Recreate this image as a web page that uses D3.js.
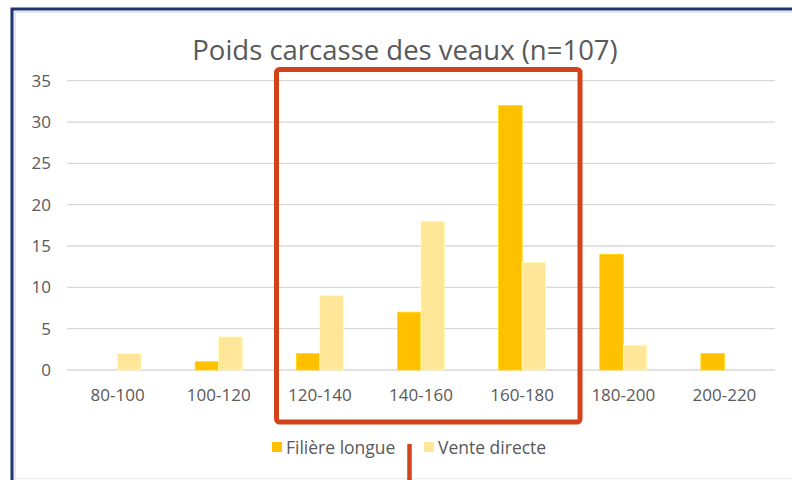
<!DOCTYPE html>
<html>
<head>
<meta charset="utf-8">
<script src="https://cdn.jsdelivr.net/npm/d3@7"></script>
<style>
  body { margin: 0; background: #fff; }
  text { font-family: "Open Sans", sans-serif; fill: #595959; }
</style>
</head>
<body>
<svg id="chart" width="792" height="480"></svg>
<script>
// Data
var categories = ["80-100", "100-120", "120-140", "140-160", "160-180", "180-200", "200-220"];
var filiereLongue = [0, 1, 2, 7, 32, 14, 2];
var venteDirecte = [2, 4, 9, 18, 13, 3, 0];
var seriesNames = ["Filière longue", "Vente directe"];
var yTicks = [0, 5, 10, 15, 20, 25, 30, 35];

var colors = ["#FFC000", "#FFE699"];

var svg = d3.select("#chart");

// Frame of the slide (navy border on top/left, light shadow inside)
svg.append("rect").attr("x", 12).attr("y", 9).attr("width", 800).attr("height", 480)
   .attr("fill", "none").attr("stroke", "#1F3372").attr("stroke-width", 3);
svg.append("path").attr("d", "M15,480 V12 H792")
   .attr("fill", "none").attr("stroke", "#dde0e8").attr("stroke-width", 1.5);
svg.append("line").attr("x1", 14).attr("x2", 792).attr("y1", 478.5).attr("y2", 478.5)
   .attr("stroke", "#ececec").attr("stroke-width", 1.5);

var x0 = d3.scaleBand().domain(categories).range([67, 775]).paddingInner(0.535).paddingOuter(0.2675);
var x1 = d3.scaleBand().domain([0, 1]).range([0, x0.bandwidth()]);
var y = d3.scaleLinear().domain([0, 35]).range([370, 80.7]);

// Gridlines
svg.append("g").selectAll("line").data(yTicks).join("line")
   .attr("x1", 67).attr("x2", 775)
   .attr("y1", function(d){ return y(d); }).attr("y2", function(d){ return y(d); })
   .attr("stroke", "#d9d9d9").attr("stroke-width", 1.3);

// Y axis labels
var yAxis = d3.axisLeft(y).tickValues(yTicks).tickSize(0).tickPadding(0);
var gy = svg.append("g").attr("transform", "translate(51,0)").call(yAxis);
gy.select(".domain").remove();
gy.selectAll("text").attr("font-size", 17).style("font-family", "Open Sans").attr("fill", "#595959");

// X axis labels
var xAxis = d3.axisBottom(x0).tickSize(0).tickPadding(0);
var gx = svg.append("g").attr("transform", "translate(0,389)").call(xAxis);
gx.select(".domain").remove();
gx.selectAll("text").attr("font-size", 17).style("font-family", "Open Sans").attr("fill", "#595959");

// Bars
var series = [filiereLongue, venteDirecte];
series.forEach(function(values, si){
    svg.append("g").selectAll("rect").data(values).join("rect")
       .attr("x", function(d, i){ return x0(categories[i]) + x1(si); })
       .attr("y", function(d){ return y(d); })
       .attr("width", x1.bandwidth())
       .attr("height", function(d){ return y(0) - y(d); })
       .attr("fill", colors[si])
       .attr("stroke", d3.color(colors[si]).brighter(0.4))
       .attr("stroke-width", 0.8)
       .attr("display", function(d){ return d > 0 ? null : "none"; });
});

// Title
svg.append("text").attr("x", 405).attr("y", 60).attr("text-anchor", "middle")
   .attr("font-size", 27.5).text("Poids carcasse des veaux (n=107)");

// Legend
var legendX = [272, 424];
seriesNames.forEach(function(name, i){
    svg.append("rect").attr("x", legendX[i]).attr("y", 442).attr("width", 10).attr("height", 10)
       .attr("fill", colors[i]);
    svg.append("text").attr("x", legendX[i] + 14).attr("y", 454)
       .attr("font-size", 17.5).text(name);
});

// Red highlight box and its connector line
svg.append("rect").attr("x", 276.5).attr("y", 69.5).attr("width", 303.5).attr("height", 352.5)
   .attr("rx", 3).attr("fill", "none").attr("stroke", "#D2431A").attr("stroke-width", 5);
svg.append("line").attr("x1", 409.5).attr("x2", 409.5).attr("y1", 444).attr("y2", 480)
   .attr("stroke", "#D2431A").attr("stroke-width", 4.5);
</script>
</body>
</html>
